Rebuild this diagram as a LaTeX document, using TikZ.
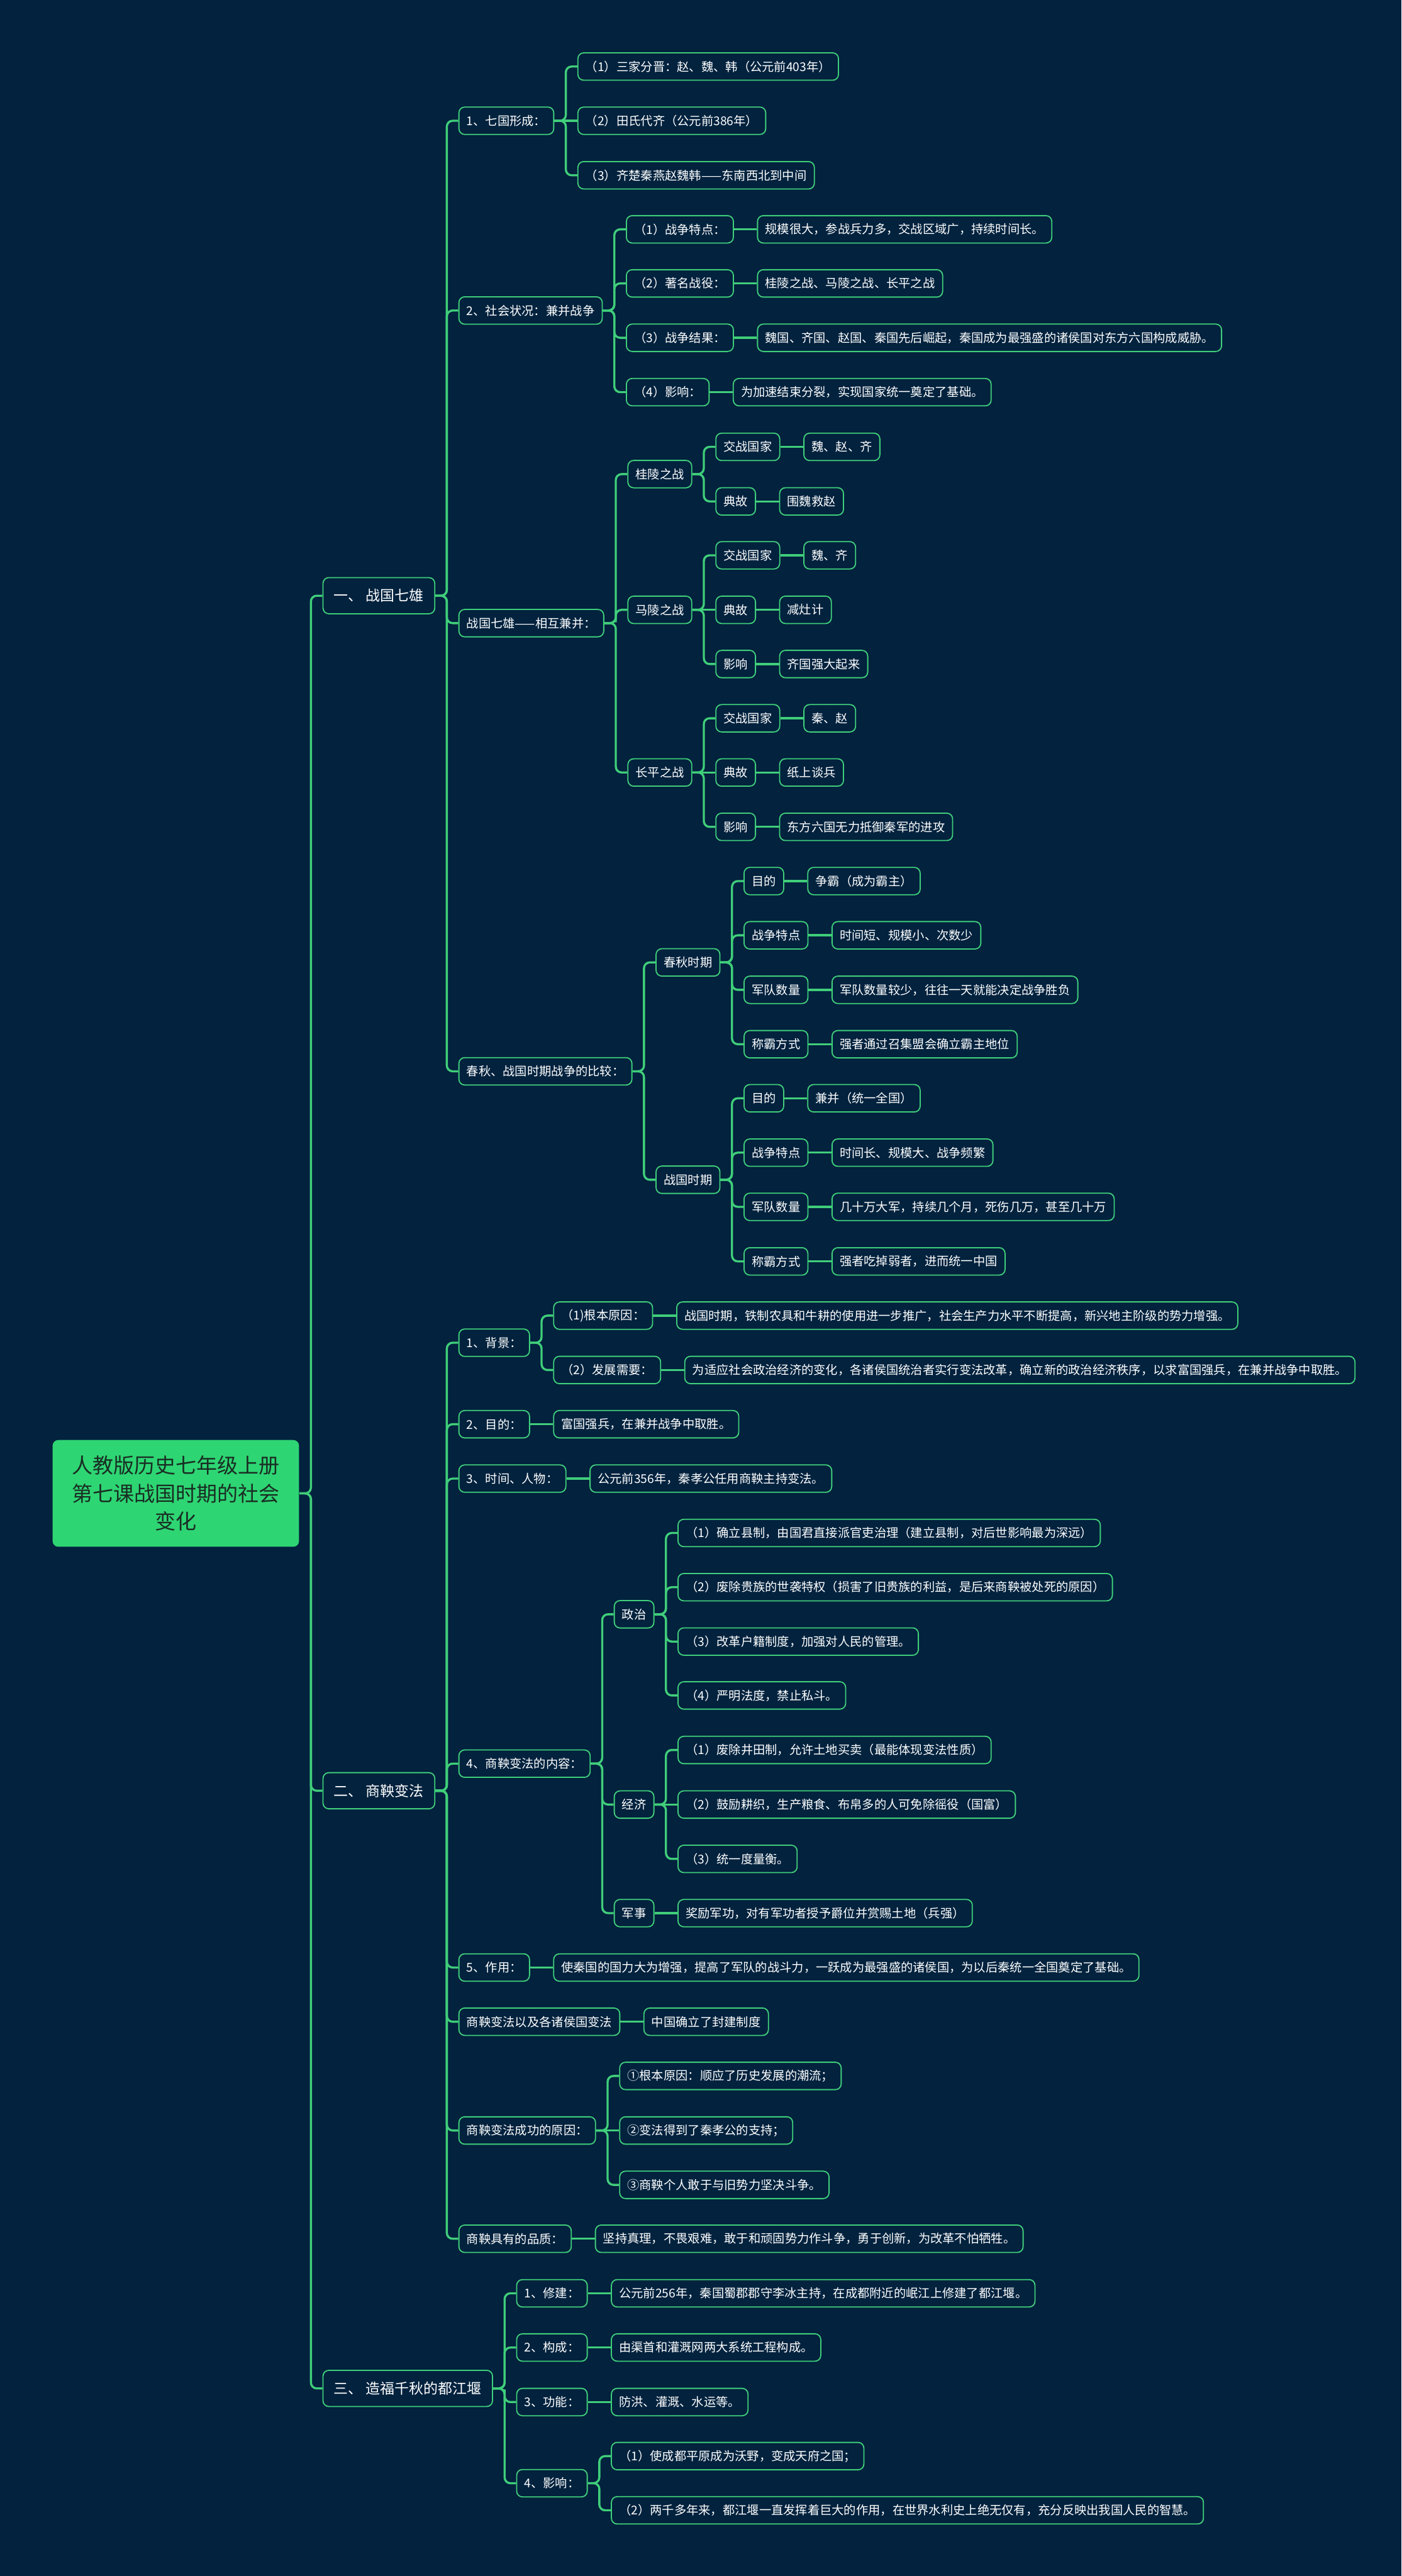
\documentclass[tikz,border=0pt]{standalone}
\usepackage{fontspec}
\setmainfont{Noto Sans CJK SC}
\usepackage{tikz}
\usetikzlibrary{positioning, calc}

\definecolor{bg}{RGB}{2,34,62}
\definecolor{wire}{RGB}{64,206,122}
\definecolor{rootfill}{RGB}{46,213,115}
\definecolor{rootink}{RGB}{25,45,35}

\begin{document}
\begin{tikzpicture}[
    x=0.3mm, y=-0.3mm,
    topic/.style={fill=rootfill, text=rootink, rounded corners=3pt, align=center, minimum width=4.5cm, minimum height=1.95cm, font=\fontsize{10.8}{14.5}\selectfont},
    branch/.style={draw=wire, line width=0.6pt, fill=bg, text=white, rounded corners=3pt, anchor=west, minimum height=0.66cm, inner xsep=0.2cm, font=\fontsize{7.5}{9}\selectfont},
    item/.style={draw=wire, line width=0.6pt, fill=bg, text=white, rounded corners=3pt, anchor=west, minimum height=0.5cm, inner xsep=0.14cm, font=\fontsize{6.3}{8}\selectfont},
    link/.style={draw=wire, line width=1.1pt, rounded corners=3pt},
    elbow/.style={to path={-| ($(\tikztostart)!.5!(\tikztotarget)$) |- (\tikztotarget)}}
]
\fill[bg, use as bounding box] (0,0) rectangle (853,1568);

% root and main branches
\node[topic] (lesson) at (107,909) {人教版历史七年级上册\\第七课战国时期的社会\\变化};
\node[branch] (qixiong) at ([xshift=4.2mm]lesson.east |- 0,362.6) {一、 战国七雄};
\node[branch] (bianfa) at ([xshift=4.2mm]lesson.east |- 0,1090) {二、 商鞅变法};
\node[branch] (dujiang) at ([xshift=4.2mm]lesson.east |- 0,1453.8) {三、 造福千秋的都江堰};

% 一、战国七雄
\node[item] (xingcheng) at ([xshift=4.2mm]qixiong.east |- 0,73.5) {1、七国形成：};
\node[item] (zhuangkuang) at ([xshift=4.2mm]qixiong.east |- 0,189) {2、社会状况：兼并战争};
\node[item] (jianbing) at ([xshift=4.2mm]qixiong.east |- 0,379.3) {战国七雄——相互兼并：};
\node[item] (bijiao) at ([xshift=4.2mm]qixiong.east |- 0,652.1) {春秋、战国时期战争的比较：};

\node[item] (sanjia) at ([xshift=4.2mm]xingcheng.east |- 0,40.5) {（1）三家分晋：赵、魏、韩（公元前403年）};
\node[item, right=4.2mm of xingcheng] (tianshi) {（2）田氏代齐（公元前386年）};
\node[item] (fangwei) at ([xshift=4.2mm]xingcheng.east |- 0,106.7) {（3）齐楚秦燕赵魏韩——东南西北到中间};

\node[item] (tedian) at ([xshift=4.2mm]zhuangkuang.east |- 0,139.6) {（1）战争特点：};
\node[item] (zhanyi) at ([xshift=4.2mm]zhuangkuang.east |- 0,172.5) {（2）著名战役：};
\node[item] (jieguo) at ([xshift=4.2mm]zhuangkuang.east |- 0,205.6) {（3）战争结果：};
\node[item] (yingxiang) at ([xshift=4.2mm]zhuangkuang.east |- 0,238.7) {（4）影响：};
\node[item, right=4.2mm of tedian] (tedianA) {规模很大，参战兵力多，交战区域广，持续时间长。};
\node[item, right=4.2mm of zhanyi] (zhanyiA) {桂陵之战、马陵之战、长平之战};
\node[item, right=4.2mm of jieguo] (jieguoA) {魏国、齐国、赵国、秦国先后崛起，秦国成为最强盛的诸侯国对东方六国构成威胁。};
\node[item, right=4.2mm of yingxiang] (yingxiangA) {为加速结束分裂，实现国家统一奠定了基础。};

\node[item] (guiling) at ([xshift=4.2mm]jianbing.east |- 0,288.6) {桂陵之战};
\node[item] (maling) at ([xshift=4.2mm]jianbing.east |- 0,371.2) {马陵之战};
\node[item] (changping) at ([xshift=4.2mm]jianbing.east |- 0,470.2) {长平之战};

\node[item] (glGuo) at ([xshift=4.2mm]guiling.east |- 0,272) {交战国家};
\node[item] (glDian) at ([xshift=4.2mm]guiling.east |- 0,305.2) {典故};
\node[item, right=4.2mm of glGuo] (glGuoA) {魏、赵、齐};
\node[item, right=4.2mm of glDian] (glDianA) {围魏救赵};

\node[item] (mlGuo) at ([xshift=4.2mm]maling.east |- 0,338) {交战国家};
\node[item, right=4.2mm of maling] (mlDian) {典故};
\node[item] (mlYing) at ([xshift=4.2mm]maling.east |- 0,404.2) {影响};
\node[item, right=4.2mm of mlGuo] (mlGuoA) {魏、齐};
\node[item, right=4.2mm of mlDian] (mlDianA) {减灶计};
\node[item, right=4.2mm of mlYing] (mlYingA) {齐国强大起来};

\node[item] (cpGuo) at ([xshift=4.2mm]changping.east |- 0,437.2) {交战国家};
\node[item, right=4.2mm of changping] (cpDian) {典故};
\node[item] (cpYing) at ([xshift=4.2mm]changping.east |- 0,503.3) {影响};
\node[item, right=4.2mm of cpGuo] (cpGuoA) {秦、赵};
\node[item, right=4.2mm of cpDian] (cpDianA) {纸上谈兵};
\node[item, right=4.2mm of cpYing] (cpYingA) {东方六国无力抵御秦军的进攻};

\node[item] (chunqiu) at ([xshift=4.2mm]bijiao.east |- 0,585.8) {春秋时期};
\node[item] (zhanguo) at ([xshift=4.2mm]bijiao.east |- 0,718.1) {战国时期};

\node[item] (cqMu) at ([xshift=4.2mm]chunqiu.east |- 0,536.3) {目的};
\node[item] (cqTe) at ([xshift=4.2mm]chunqiu.east |- 0,569.3) {战争特点};
\node[item] (cqJun) at ([xshift=4.2mm]chunqiu.east |- 0,602.5) {军队数量};
\node[item] (cqBa) at ([xshift=4.2mm]chunqiu.east |- 0,635.6) {称霸方式};
\node[item, right=4.2mm of cqMu] (cqMuA) {争霸（成为霸主）};
\node[item, right=4.2mm of cqTe] (cqTeA) {时间短、规模小、次数少};
\node[item, right=4.2mm of cqJun] (cqJunA) {军队数量较少，往往一天就能决定战争胜负};
\node[item, right=4.2mm of cqBa] (cqBaA) {强者通过召集盟会确立霸主地位};

\node[item] (zgMu) at ([xshift=4.2mm]zhanguo.east |- 0,668.5) {目的};
\node[item] (zgTe) at ([xshift=4.2mm]zhanguo.east |- 0,701.6) {战争特点};
\node[item] (zgJun) at ([xshift=4.2mm]zhanguo.east |- 0,734.6) {军队数量};
\node[item] (zgBa) at ([xshift=4.2mm]zhanguo.east |- 0,767.8) {称霸方式};
\node[item, right=4.2mm of zgMu] (zgMuA) {兼并（统一全国）};
\node[item, right=4.2mm of zgTe] (zgTeA) {时间长、规模大、战争频繁};
\node[item, right=4.2mm of zgJun] (zgJunA) {几十万大军，持续几个月，死伤几万，甚至几十万};
\node[item, right=4.2mm of zgBa] (zgBaA) {强者吃掉弱者，进而统一中国};

% 二、商鞅变法
\node[item] (beijing) at ([xshift=4.2mm]bianfa.east |- 0,817.3) {1、背景：};
\node[item] (mudi) at ([xshift=4.2mm]bianfa.east |- 0,866.9) {2、目的：};
\node[item] (renwu) at ([xshift=4.2mm]bianfa.east |- 0,900) {3、时间、人物：};
\node[item] (neirong) at ([xshift=4.2mm]bianfa.east |- 0,1073.5) {4、商鞅变法的内容：};
\node[item] (zuoyong) at ([xshift=4.2mm]bianfa.east |- 0,1197.6) {5、作用：};
\node[item] (gejian) at ([xshift=4.2mm]bianfa.east |- 0,1230.6) {商鞅变法以及各诸侯国变法};
\node[item] (chenggong) at ([xshift=4.2mm]bianfa.east |- 0,1296.8) {商鞅变法成功的原因：};
\node[item] (pinzhi) at ([xshift=4.2mm]bianfa.east |- 0,1362.7) {商鞅具有的品质：};

\node[item] (genben) at ([xshift=4.2mm]beijing.east |- 0,800.8) {（1)根本原因：};
\node[item] (xuyao) at ([xshift=4.2mm]beijing.east |- 0,833.9) {（2）发展需要：};
\node[item, right=4.2mm of genben] (genbenA) {战国时期，铁制农具和牛耕的使用进一步推广，社会生产力水平不断提高，新兴地主阶级的势力增强。};
\node[item, right=4.2mm of xuyao] (xuyaoA) {为适应社会政治经济的变化，各诸侯国统治者实行变法改革，确立新的政治经济秩序，以求富国强兵，在兼并战争中取胜。};
\node[item, right=4.2mm of mudi] (mudiA) {富国强兵，在兼并战争中取胜。};
\node[item, right=4.2mm of renwu] (renwuA) {公元前356年，秦孝公任用商鞅主持变法。};

\node[item] (zhengzhi) at ([xshift=4.2mm]neirong.east |- 0,982.6) {政治};
\node[item] (jingji) at ([xshift=4.2mm]neirong.east |- 0,1098.4) {经济};
\node[item] (junshi) at ([xshift=4.2mm]neirong.east |- 0,1164.5) {军事};

\node[item] (zz1) at ([xshift=4.2mm]zhengzhi.east |- 0,933.1) {（1）确立县制，由国君直接派官吏治理（建立县制，对后世影响最为深远）};
\node[item] (zz2) at ([xshift=4.2mm]zhengzhi.east |- 0,966.1) {（2）废除贵族的世袭特权（损害了旧贵族的利益，是后来商鞅被处死的原因）};
\node[item] (zz3) at ([xshift=4.2mm]zhengzhi.east |- 0,999.2) {（3）改革户籍制度，加强对人民的管理。};
\node[item] (zz4) at ([xshift=4.2mm]zhengzhi.east |- 0,1032) {（4）严明法度，禁止私斗。};

\node[item] (jj1) at ([xshift=4.2mm]jingji.east |- 0,1065.2) {（1）废除井田制，允许土地买卖（最能体现变法性质）};
\node[item, right=4.2mm of jingji] (jj2) {（2）鼓励耕织，生产粮食、布帛多的人可免除徭役（国富）};
\node[item] (jj3) at ([xshift=4.2mm]jingji.east |- 0,1131.5) {（3）统一度量衡。};
\node[item, right=4.2mm of junshi] (junshiA) {奖励军功，对有军功者授予爵位并赏赐土地（兵强）};

\node[item, right=4.2mm of zuoyong] (zuoyongA) {使秦国的国力大为增强，提高了军队的战斗力，一跃成为最强盛的诸侯国，为以后秦统一全国奠定了基础。};
\node[item, right=4.2mm of gejian] (gejianA) {中国确立了封建制度};

\node[item] (cg1) at ([xshift=4.2mm]chenggong.east |- 0,1263.6) {①根本原因：顺应了历史发展的潮流；};
\node[item, right=4.2mm of chenggong] (cg2) {②变法得到了秦孝公的支持；};
\node[item] (cg3) at ([xshift=4.2mm]chenggong.east |- 0,1329.9) {③商鞅个人敢于与旧势力坚决斗争。};

\node[item, right=4.2mm of pinzhi] (pinzhiA) {坚持真理，不畏艰难，敢于和顽固势力作斗争，勇于创新，为改革不怕牺牲。};

% 三、都江堰
\node[item] (xiujian) at ([xshift=4.2mm]dujiang.east |- 0,1395.9) {1、修建：};
\node[item] (goucheng) at ([xshift=4.2mm]dujiang.east |- 0,1428.9) {2、构成：};
\node[item] (gongneng) at ([xshift=4.2mm]dujiang.east |- 0,1462.1) {3、功能：};
\node[item] (djYing) at ([xshift=4.2mm]dujiang.east |- 0,1511.5) {4、影响：};
\node[item, right=4.2mm of xiujian] (xiujianA) {公元前256年，秦国蜀郡郡守李冰主持，在成都附近的岷江上修建了都江堰。};
\node[item, right=4.2mm of goucheng] (gouchengA) {由渠首和灌溉网两大系统工程构成。};
\node[item, right=4.2mm of gongneng] (gongnengA) {防洪、灌溉、水运等。};
\node[item] (djY1) at ([xshift=4.2mm]djYing.east |- 0,1495) {（1）使成都平原成为沃野，变成天府之国；};
\node[item] (djY2) at ([xshift=4.2mm]djYing.east |- 0,1528) {（2）两千多年来，都江堰一直发挥着巨大的作用，在世界水利史上绝无仅有，充分反映出我国人民的智慧。};

% connectors
\draw[link] (lesson.east) to[elbow] (qixiong.west);
\draw[link] (lesson.east) to[elbow] (bianfa.west);
\draw[link] (lesson.east) to[elbow] (dujiang.west);

\draw[link] (qixiong.east) to[elbow] (xingcheng.west);
\draw[link] (qixiong.east) to[elbow] (zhuangkuang.west);
\draw[link] (qixiong.east) to[elbow] (jianbing.west);
\draw[link] (qixiong.east) to[elbow] (bijiao.west);

\draw[link] (xingcheng.east) to[elbow] (sanjia.west);
\draw[link] (xingcheng.east) -- (tianshi.west);
\draw[link] (xingcheng.east) to[elbow] (fangwei.west);

\draw[link] (zhuangkuang.east) to[elbow] (tedian.west);
\draw[link] (zhuangkuang.east) to[elbow] (zhanyi.west);
\draw[link] (zhuangkuang.east) to[elbow] (jieguo.west);
\draw[link] (zhuangkuang.east) to[elbow] (yingxiang.west);
\draw[link] (tedian) -- (tedianA);
\draw[link] (zhanyi) -- (zhanyiA);
\draw[link] (jieguo) -- (jieguoA);
\draw[link] (yingxiang) -- (yingxiangA);

\draw[link] (jianbing.east) to[elbow] (guiling.west);
\draw[link] (jianbing.east) to[elbow] (maling.west);
\draw[link] (jianbing.east) to[elbow] (changping.west);
\draw[link] (guiling.east) to[elbow] (glGuo.west);
\draw[link] (guiling.east) to[elbow] (glDian.west);
\draw[link] (glGuo) -- (glGuoA);
\draw[link] (glDian) -- (glDianA);
\draw[link] (maling.east) to[elbow] (mlGuo.west);
\draw[link] (maling) -- (mlDian);
\draw[link] (maling.east) to[elbow] (mlYing.west);
\draw[link] (mlGuo) -- (mlGuoA);
\draw[link] (mlDian) -- (mlDianA);
\draw[link] (mlYing) -- (mlYingA);
\draw[link] (changping.east) to[elbow] (cpGuo.west);
\draw[link] (changping) -- (cpDian);
\draw[link] (changping.east) to[elbow] (cpYing.west);
\draw[link] (cpGuo) -- (cpGuoA);
\draw[link] (cpDian) -- (cpDianA);
\draw[link] (cpYing) -- (cpYingA);

\draw[link] (bijiao.east) to[elbow] (chunqiu.west);
\draw[link] (bijiao.east) to[elbow] (zhanguo.west);
\draw[link] (chunqiu.east) to[elbow] (cqMu.west);
\draw[link] (chunqiu.east) to[elbow] (cqTe.west);
\draw[link] (chunqiu.east) to[elbow] (cqJun.west);
\draw[link] (chunqiu.east) to[elbow] (cqBa.west);
\draw[link] (cqMu) -- (cqMuA);
\draw[link] (cqTe) -- (cqTeA);
\draw[link] (cqJun) -- (cqJunA);
\draw[link] (cqBa) -- (cqBaA);
\draw[link] (zhanguo.east) to[elbow] (zgMu.west);
\draw[link] (zhanguo.east) to[elbow] (zgTe.west);
\draw[link] (zhanguo.east) to[elbow] (zgJun.west);
\draw[link] (zhanguo.east) to[elbow] (zgBa.west);
\draw[link] (zgMu) -- (zgMuA);
\draw[link] (zgTe) -- (zgTeA);
\draw[link] (zgJun) -- (zgJunA);
\draw[link] (zgBa) -- (zgBaA);

\draw[link] (bianfa.east) to[elbow] (beijing.west);
\draw[link] (bianfa.east) to[elbow] (mudi.west);
\draw[link] (bianfa.east) to[elbow] (renwu.west);
\draw[link] (bianfa.east) to[elbow] (neirong.west);
\draw[link] (bianfa.east) to[elbow] (zuoyong.west);
\draw[link] (bianfa.east) to[elbow] (gejian.west);
\draw[link] (bianfa.east) to[elbow] (chenggong.west);
\draw[link] (bianfa.east) to[elbow] (pinzhi.west);

\draw[link] (beijing.east) to[elbow] (genben.west);
\draw[link] (beijing.east) to[elbow] (xuyao.west);
\draw[link] (genben) -- (genbenA);
\draw[link] (xuyao) -- (xuyaoA);
\draw[link] (mudi) -- (mudiA);
\draw[link] (renwu) -- (renwuA);

\draw[link] (neirong.east) to[elbow] (zhengzhi.west);
\draw[link] (neirong.east) to[elbow] (jingji.west);
\draw[link] (neirong.east) to[elbow] (junshi.west);
\draw[link] (zhengzhi.east) to[elbow] (zz1.west);
\draw[link] (zhengzhi.east) to[elbow] (zz2.west);
\draw[link] (zhengzhi.east) to[elbow] (zz3.west);
\draw[link] (zhengzhi.east) to[elbow] (zz4.west);
\draw[link] (jingji.east) to[elbow] (jj1.west);
\draw[link] (jingji) -- (jj2);
\draw[link] (jingji.east) to[elbow] (jj3.west);
\draw[link] (junshi) -- (junshiA);

\draw[link] (zuoyong) -- (zuoyongA);
\draw[link] (gejian) -- (gejianA);
\draw[link] (chenggong.east) to[elbow] (cg1.west);
\draw[link] (chenggong) -- (cg2);
\draw[link] (chenggong.east) to[elbow] (cg3.west);
\draw[link] (pinzhi) -- (pinzhiA);

\draw[link] (dujiang.east) to[elbow] (xiujian.west);
\draw[link] (dujiang.east) to[elbow] (goucheng.west);
\draw[link] (dujiang.east) to[elbow] (gongneng.west);
\draw[link] (dujiang.east) to[elbow] (djYing.west);
\draw[link] (xiujian) -- (xiujianA);
\draw[link] (goucheng) -- (gouchengA);
\draw[link] (gongneng) -- (gongnengA);
\draw[link] (djYing.east) to[elbow] (djY1.west);
\draw[link] (djYing.east) to[elbow] (djY2.west);
\end{tikzpicture}
\end{document}
